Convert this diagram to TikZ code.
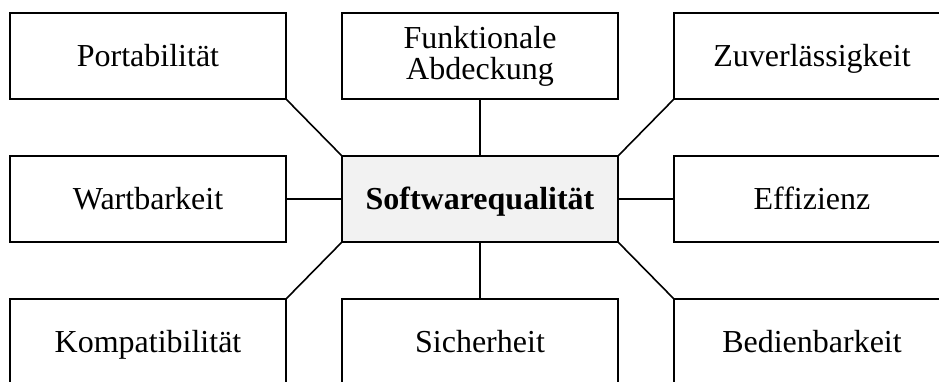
\documentclass[tikz,border=0pt]{standalone}
\usepackage{fontspec}
\setmainfont{Liberation Serif}
\begin{document}
\begin{tikzpicture}[x=1pt,y=-1pt,
  qbox/.style={draw=black, line width=1.6pt, fill=white, minimum width=276pt, minimum height=86pt,
    inner sep=0pt, outer sep=0pt, font=\fontsize{32}{31}\selectfont},
  onebox/.style={qbox, text height=21pt, text depth=0pt},
  twobox/.style={qbox, align=center},
  core/.style={qbox, text height=20pt, text depth=0pt, fill=black!5, font=\fontsize{32}{31}\selectfont\bfseries},
  link/.style={line width=1.6pt}]
\useasboundingbox (0,0) rectangle (939,381);
\node[core] (c) at (480,199) {Softwarequalität};
\node[onebox] (p) at (148,56) {Portabilität};
\node[twobox] (f) at (480,56) {Funktionale\\Abdeckung};
\node[onebox] (z) at (812,56) {Zuverlässigkeit};
\node[onebox] (w) at (148,199) {Wartbarkeit};
\node[onebox] (e) at (812,199) {Effizienz};
\node[onebox] (k) at (148,342) {Kompatibilität};
\node[onebox] (s) at (480,342) {Sicherheit};
\node[onebox] (b) at (812,342) {Bedienbarkeit};
\draw[link] (p.south east) -- (c.north west);
\draw[link] (f.south) -- (c.north);
\draw[link] (z.south west) -- (c.north east);
\draw[link] (w.east) -- (c.west);
\draw[link] (e.west) -- (c.east);
\draw[link] (k.north east) -- (c.south west);
\draw[link] (s.north) -- (c.south);
\draw[link] (b.north west) -- (c.south east);
\end{tikzpicture}
\end{document}
